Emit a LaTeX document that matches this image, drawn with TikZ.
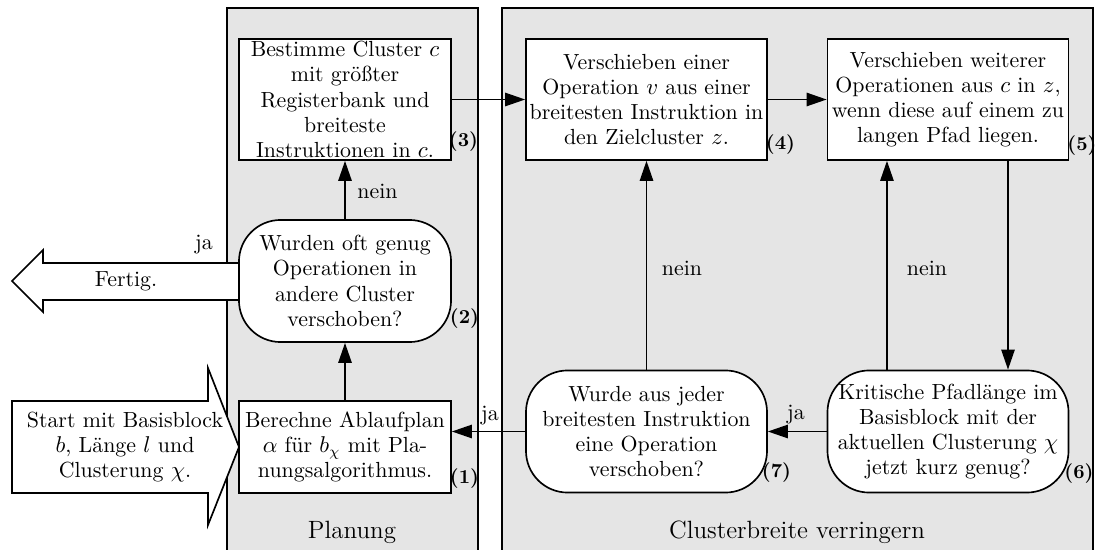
\documentclass[tikz,border=0pt]{standalone}
\usepackage{fontspec}
\usetikzlibrary{arrows.meta,calc}

\begin{document}
\begin{tikzpicture}[x=0.48pt,y=-0.48pt,
  font=\fontsize{10.5}{12.1}\selectfont,
  panel/.style={fill=gray!20,draw=black,line width=0.5pt},
  stepbox/.style={draw=black,fill=white,line width=0.8pt,align=center,
    inner sep=1pt,minimum height=58.1pt},
  decision/.style={stepbox,rounded corners=20pt,minimum height=58.6pt},
  narrow/.style={minimum width=101.8pt},
  wide/.style={minimum width=115.7pt},
  bigarrow/.style={draw=black,fill=white,line width=0.8pt,line join=miter},
  arr/.style={line width=0.8pt,-{Triangle[length=9.6pt,width=6.4pt]}},
  num/.style={font=\fontsize{9.5}{11}\selectfont\bfseries,inner sep=0pt},
  lbl/.style={inner sep=0pt},
  title/.style={font=\large,inner sep=0pt}]

  \useasboundingbox (0,0) rectangle (1096,550);
  \clip (0,0) rectangle (1096,550);

  % the two working areas
  \draw[panel] (227,8) rectangle (478,580);
  \draw[panel] (502,8) rectangle (1093,580);
  \node[title] (tplan) at (352,532) {Planung};
  \node[title] (tclus) at (797,532) {Clusterbreite verringern};

  % entry and exit arrows
  \draw[bigarrow] (245,263) -- (43,263) -- (43,250) -- (12,281) -- (43,312)
    -- (43,300) -- (245,300);
  \node[lbl] (fertig) at (126,281) {Fertig.};
  \node[lbl] (jaout) at (204,245) {ja};
  \draw[bigarrow] (12,401) -- (208,401) -- (208,368) -- (239,447) -- (208,525)
    -- (208,493) -- (12,493) -- cycle;
  \node[lbl,align=center] (start) at (125,447)
    {Start mit Basisblock\\$b$, Länge $l$ und\\Clusterung $\chi$.};

  % steps
  \node[stepbox,narrow] (b3) at (345,99.5)
    {Bestimme Cluster $c$\\mit größter\\Registerbank und\\breiteste\\Instruktionen in $c$.};
  \node[stepbox,wide] (b4) at (646.5,99.5)
    {Verschieben einer\\Operation $v$ aus einer\\breitesten Instruktion in\\den Zielcluster $z$.};
  \node[stepbox,wide] (b5) at (948,99.5)
    {Verschieben weiterer\\Operationen aus $c$ in $z$,\\wenn diese auf einem zu\\langen Pfad liegen.};
  \node[decision,narrow] (r2) at (345,281)
    {Wurden oft genug\\Operationen in\\andere Cluster\\verschoben?};
  \node[stepbox,narrow,minimum height=44.2pt] (b1) at (345,447)
    {Berechne Ablaufplan\\$\alpha$ für $b_{\chi}$ mit Pla-\\nungsalgorithmus.};
  \node[decision,wide] (r7) at (646.5,431.5)
    {Wurde aus jeder\\breitesten Instruktion\\eine Operation\\verschoben?};
  \node[decision,wide] (r6) at (948,431.5)
    {Kritische Pfadlänge im\\Basisblock mit der\\aktuellen Clusterung $\chi$\\jetzt kurz genug?};

  % step numbers
  \node[num] (n1) at (464.5,479) {(1)};
  \node[num] (n2) at (464.5,319) {(2)};
  \node[num] (n3) at (463.5,142) {(3)};
  \node[num] (n4) at (780.5,145) {(4)};
  \node[num] (n5) at (1082,146) {(5)};
  \node[num] (n6) at (1079,474) {(6)};
  \node[num] (n7) at (776.5,472.5) {(7)};

  % control flow
  \draw[arr] (b1.north) -- (r2.south);
  \draw[arr] (r2.north) -- (b3.south);
  \node[lbl] (nein2) at (377.5,191) {nein};
  \draw[arr] (b3.east) -- (b4.west);
  \draw[arr] (b4.east) -- (b5.west);
  \draw[arr] ([xshift=28.8pt]b5.south) -- ([xshift=28.8pt]r6.north);
  \draw[arr] ([xshift=-29.3pt]r6.north) -- ([xshift=-29.3pt]b5.south);
  \node[lbl] (nein6) at (927,268) {nein};
  \draw[arr] (r6.west) -- (r7.east);
  \node[lbl] (ja6) at (796,415) {ja};
  \draw[arr] (r7.north) -- (b4.south);
  \node[lbl] (nein7) at (682,268) {nein};
  \draw[arr] (r7.west) -- (r7.west -| b1.east);
  \node[lbl] (ja7) at (490,416) {ja};
\end{tikzpicture}
\end{document}
